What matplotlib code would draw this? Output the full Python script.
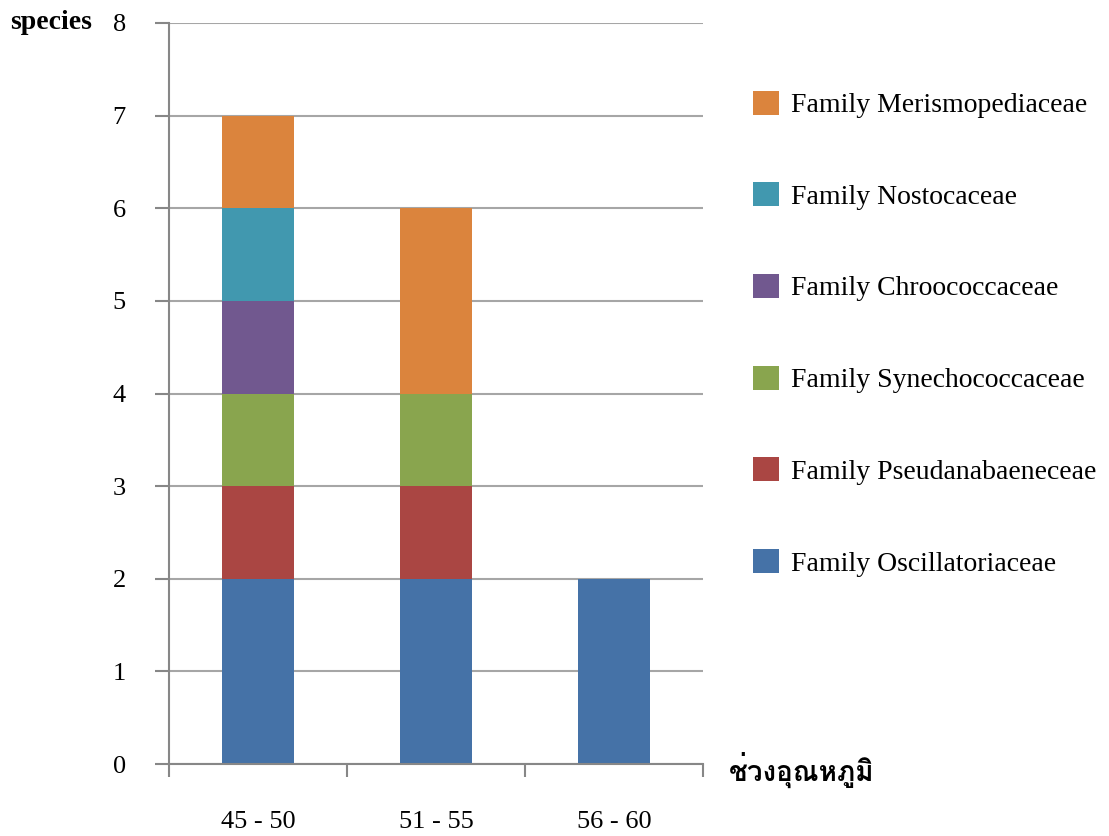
import matplotlib
matplotlib.use("Agg")
import matplotlib.pyplot as plt
from matplotlib import font_manager
from matplotlib.ft2font import FT2Font
from matplotlib.patches import Patch
import numpy as np

plt.rcParams['font.family'] = ['Liberation Serif', 'DejaVu Sans']

# species counts per temperature range
categories = ['45 - 50', '51 - 55', '56 - 60']
families = ['Family Oscillatoriaceae', 'Family Pseudanabaeneceae',
            'Family Synechococcaceae', 'Family Chroococcaceae',
            'Family Nostocaceae', 'Family Merismopediaceae']
oscillatoriaceae = [2, 2, 2]
pseudanabaeneceae = [1, 1, 0]
synechococcaceae = [1, 1, 0]
chroococcaceae = [1, 0, 0]
nostocaceae = [1, 0, 0]
merismopediaceae = [1, 2, 0]
colors = ['#4572A7', '#AA4643', '#89A54E', '#71588F', '#4198AF', '#DB843D']

series = [oscillatoriaceae, pseudanabaeneceae, synechococcaceae,
          chroococcaceae, nostocaceae, merismopediaceae]

x_title = 'ช่วงอุณหภูมิ'


def thai_families():
    """Families of installed fonts that carry Thai glyphs."""
    found = []
    for f in font_manager.fontManager.ttflist:
        try:
            cmap = FT2Font(f.fname).get_charmap()
        except Exception:
            continue
        if ord('ช') in cmap and ord('ณ') in cmap and f.name not in found:
            found.append(f.name)
    return found


fig = plt.figure(figsize=(11.09, 8.36), dpi=100)
ax = fig.add_axes([0.1524, 0.0861, 0.4815, 0.8864])

x = np.arange(len(categories)) + 0.5
bottom = np.zeros(len(categories))
for vals, col in zip(series, colors):
    vals = np.array(vals, dtype=float)
    ax.bar(x, vals, width=0.4, bottom=bottom, color=col, zorder=2)
    bottom += vals

ax.set_xlim(0, 3)
ax.set_ylim(0, 8)
ax.set_yticks(range(0, 9))
ax.yaxis.grid(True, color='#A6A6A6', linewidth=1.5, zorder=1)
ax.set_axisbelow(True)

# tick marks sit on category boundaries, labels in the middle
ax.set_xticks([0, 1, 2, 3])
ax.set_xticklabels([])
ax.set_xticks(x, minor=True)
ax.set_xticklabels(categories, minor=True)
ax.tick_params(axis='x', which='major', direction='out', length=9, width=1.5,
               color='#878787')
ax.tick_params(axis='x', which='minor', length=0, pad=34, labelsize=19)
ax.tick_params(axis='y', direction='out', length=10, width=1.5,
               color='#878787', pad=21, labelsize=19)

for side in ['top', 'right']:
    ax.spines[side].set_visible(False)
for side in ['left', 'bottom']:
    ax.spines[side].set_color('#878787')
    ax.spines[side].set_linewidth(1.5)

fig.text(0.009, 0.973, 'species', fontsize=20, fontweight='bold',
         ha='left', va='center')
fig.text(0.657, 0.079, x_title, fontsize=20, fontweight='bold',
         ha='left', va='center',
         family=thai_families() + ['Liberation Serif', 'DejaVu Sans'])

handles = [Patch(facecolor=c, edgecolor='none') for c in colors]
fig.legend(handles[::-1], families[::-1], loc='center left',
           bbox_to_anchor=(0.679, 0.601), frameon=False, fontsize=20,
           handlelength=0.95, handleheight=0.95, handletextpad=0.42,
           labelspacing=2.31, borderpad=0, borderaxespad=0)

fig.savefig('out.png', dpi=100)
